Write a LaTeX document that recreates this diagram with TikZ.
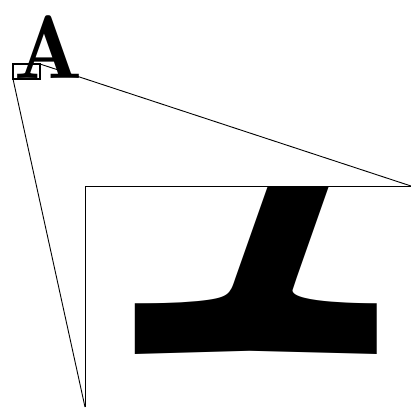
\documentclass[tikz,border=0pt]{standalone}
\tikzset{
  lens/.style={draw=black, line width=0.9pt},
  glyph/.style={inner sep=0pt, outer sep=0pt, anchor=base west, font=\fontsize{10}{10}\fontseries{b}\selectfont},
}
\begin{document}
\begin{tikzpicture}[x=1pt,y=-1pt]
\useasboundingbox (0,0) rectangle (411,407);
\node[glyph, scale=9, transform shape] (letter) at (14,78) {A};
% magnified view
\begin{scope}
  \clip (85,186) rectangle (412,408);
  \begin{scope}[shift={(85,186)}, scale=12, shift={(-13,-64)}]
    \node[glyph, scale=9, transform shape] (zoomA) at (14,78) {A};
  \end{scope}
\end{scope}
\node[lens, line width=1.1pt, inner sep=0pt, outer sep=0pt, minimum width=27pt, minimum height=15pt, anchor=north west] (src) at (13,64) {};
\coordinate (bigNW) at (85,186);
\coordinate (bigNE) at (411,186);
\coordinate (bigSW) at (85,407);
\draw[lens] (src.north east) -- (bigNE);
\draw[lens] (src.south west) -- (bigSW);
\draw[lens] (bigSW) -- (bigNW) -- (bigNE);
\end{tikzpicture}
\end{document}
